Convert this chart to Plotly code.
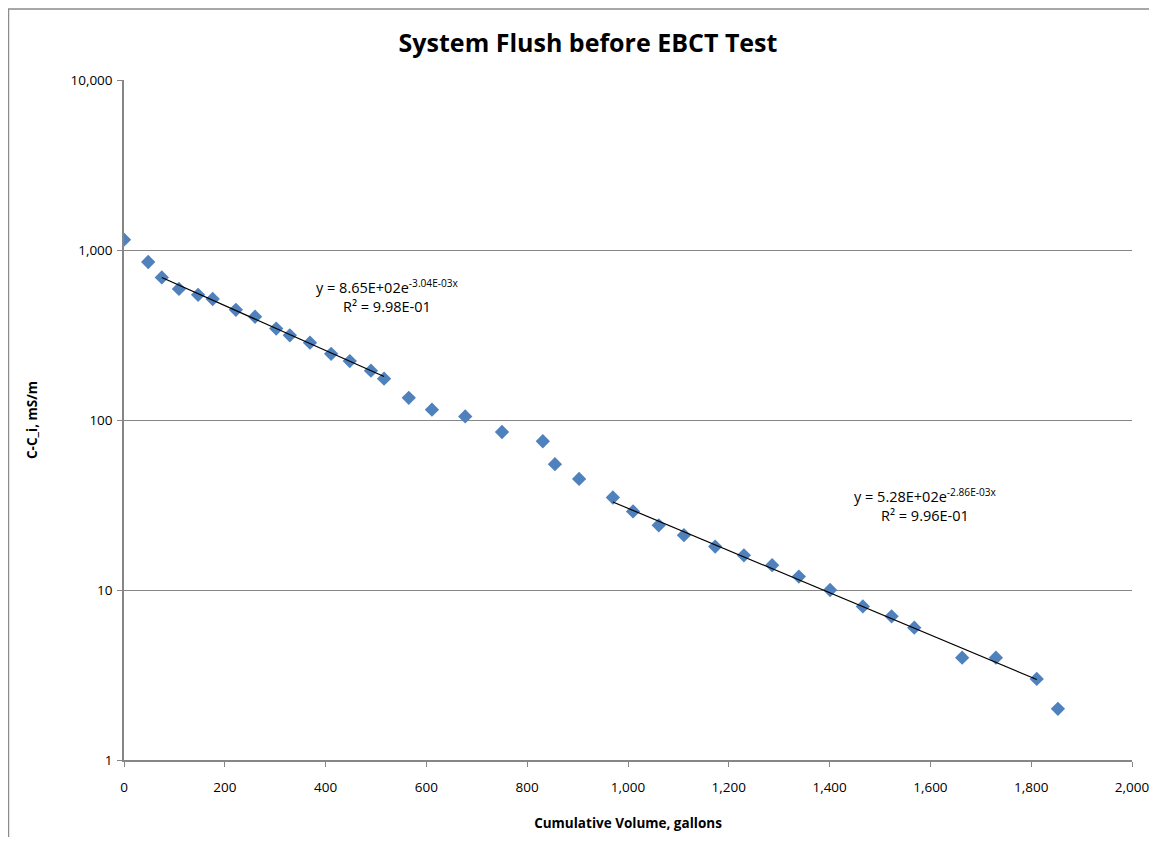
import numpy as np
import plotly.graph_objects as go

# Data
volume_gal = [0, 48, 75, 109, 147, 176, 222, 260, 302, 329, 369, 411, 448, 490, 516,
              565, 611, 677, 750, 831, 855, 903, 970, 1010, 1061, 1111, 1173, 1230,
              1286, 1339, 1401, 1466, 1523, 1568, 1663, 1730, 1811, 1853]
cond_diff = [1150, 850, 690, 590, 545, 515, 445, 405, 345, 315, 285, 245, 222, 195, 175,
             135, 115, 105, 85, 75, 55, 45, 35, 29, 24, 21, 18, 16,
             14, 12, 10, 8, 7, 6, 4, 4, 3, 2]

# Exponential trendlines as stated on the chart: y = a * exp(b x)
fit1_a, fit1_b, fit1_r2 = 8.65e2, -3.04e-3, 9.98e-1
fit1_range = [75, 516]
fit2_a, fit2_b, fit2_r2 = 5.28e2, -2.86e-3, 9.96e-1
fit2_range = [970, 1811]

x_ticks = list(range(0, 2001, 200))
y_ticks = [1, 10, 100, 1000, 10000]
y_ticktext = ["1", "10", "100", "1,000", "10,000"]

MARKER = "#4F81BD"
GRID = "#868686"
FONT = "Open Sans"

W, H = 1141, 829

fig = go.Figure()
fig.add_trace(go.Scatter(
    x=volume_gal, y=cond_diff, mode="markers",
    marker=dict(symbol="diamond", size=11, color=MARKER, line=dict(width=0)),
    showlegend=False))

for a, b, rng in [(fit1_a, fit1_b, fit1_range), (fit2_a, fit2_b, fit2_range)]:
    xs = np.linspace(rng[0], rng[1], 50)
    fig.add_trace(go.Scatter(x=xs, y=a * np.exp(b * xs), mode="lines",
                             line=dict(color="black", width=1.2), showlegend=False,
                             hoverinfo="skip"))

def eq_text(a, b, r2):
    return (f"y = {a:.2E}e<sup>{b:.2E}x</sup><br>R² = {r2:.2E}")

fig.add_annotation(x=523, y=np.log10(536), xref="x", yref="y", showarrow=False,
                   text=eq_text(fit1_a, fit1_b, fit1_r2), align="center",
                   font=dict(family=FONT, size=14.5, color="black"))
fig.add_annotation(x=1591, y=np.log10(31.6), xref="x", yref="y", showarrow=False,
                   text=eq_text(fit2_a, fit2_b, fit2_r2), align="center",
                   font=dict(family=FONT, size=14.5, color="black"))

# Outer chart border (top and left visible)
fig.add_shape(type="rect", xref="paper", yref="paper",
              x0=-0.1146, x1=1.3, y0=-0.4, y1=1.1044,
              line=dict(color="#8c8c8c", width=1.5), layer="below")

fig.update_layout(
    width=W, height=H,
    margin=dict(l=116, r=17, t=72, b=77, autoexpand=False),
    paper_bgcolor="white", plot_bgcolor="white",
    title=dict(text="<b>System Flush before EBCT Test</b>",
               x=(588 - 8) / W, xanchor="center",
               y=1 - 35 / H, yanchor="middle",
               font=dict(family=FONT, size=25, color="black")),
    font=dict(family=FONT, size=13.5, color="black"),
)
fig.update_xaxes(range=[0, 2000], tickvals=x_ticks, tickformat=",d",
                 automargin=False,
                 showgrid=False, zeroline=False,
                 showline=True, linecolor=GRID, linewidth=1.5,
                 ticks="outside", tickcolor=GRID, ticklen=5,
                 ticklabelstandoff=9, ticklabeloverflow="allow",
                 tickfont=dict(family=FONT, size=13.5),
                 title=dict(text="<b>Cumulative Volume, gallons</b>",
                            font=dict(family=FONT, size=13.5), standoff=24))
fig.update_yaxes(type="log", range=[0, 4], tickvals=y_ticks, ticktext=y_ticktext,
                 automargin=False,
                 showgrid=True, gridcolor=GRID, gridwidth=1,
                 showline=True, linecolor=GRID, linewidth=1.5,
                 ticks="outside", tickcolor=GRID, ticklen=5,
                 ticklabelstandoff=2,
                 tickfont=dict(family=FONT, size=13.5),
                 title=dict(text="<b>C-C_i, mS/m</b>",
                            font=dict(family=FONT, size=13.5), standoff=30))

fig.write_html("out.html")
